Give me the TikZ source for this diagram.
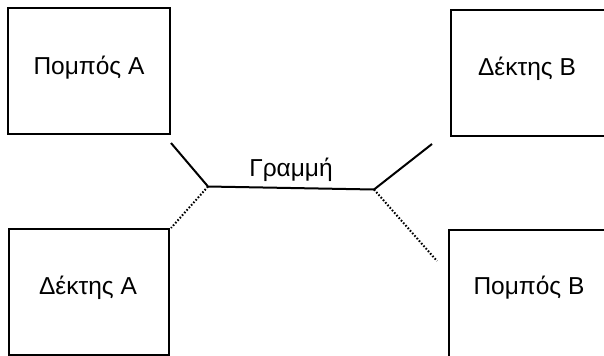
\documentclass[tikz,border=0pt]{standalone}
\usepackage{fontspec}
\setmainfont{Liberation Sans}
\usetikzlibrary{calc}
\begin{document}
\begin{tikzpicture}[x=1bp,y=-1bp,
  box/.style={draw,line width=2bp,minimum width=#1,inner sep=0pt},
  lbl/.style={font=\fontsize{24.5bp}{28bp}\selectfont,inner sep=0pt},
  wire/.style={line width=2bp},
  dotwire/.style={line width=2bp,dash pattern=on 1.6bp off 1.8bp}]
\clip (0,0) rectangle (604,355);
\useasboundingbox (0,0) rectangle (604,355);
% boxes
\node[box=162bp,minimum height=126bp] (pa) at (89,71) {};
\node[box=160bp,minimum height=126bp] (da) at (89,292) {};
\node[box=180bp,minimum height=126bp] (db) at (541,73) {};
\node[box=180bp,minimum height=140bp] (pb) at (539,300) {};
% labels
\node[lbl] (tpa) at (89,68) {Πομπός Α};
\node[lbl] (tda) at (88,288) {Δέκτης Α};
\node[lbl] (tdb) at (527,69) {Δέκτης Β};
\node[lbl] (tpb) at (529,288) {Πομπός Β};
% line junctions
\coordinate (j1) at (208,186.5);
\coordinate (j2) at (374,189.5);
\coordinate (ea) at (171,143);
\coordinate (eb) at (432,144);
\coordinate (fa) at (171,228);
\coordinate (fb) at (437,261);
\draw[wire] (ea) -- (j1) -- (j2) -- (eb);
\draw[dotwire] (j1) -- (fa);
\draw[dotwire] (j2) -- (fb);
\node[lbl] (gr) at ($(j1)!0.5!(j2)+(0,-18)$) {Γραμμή};
\end{tikzpicture}
\end{document}
